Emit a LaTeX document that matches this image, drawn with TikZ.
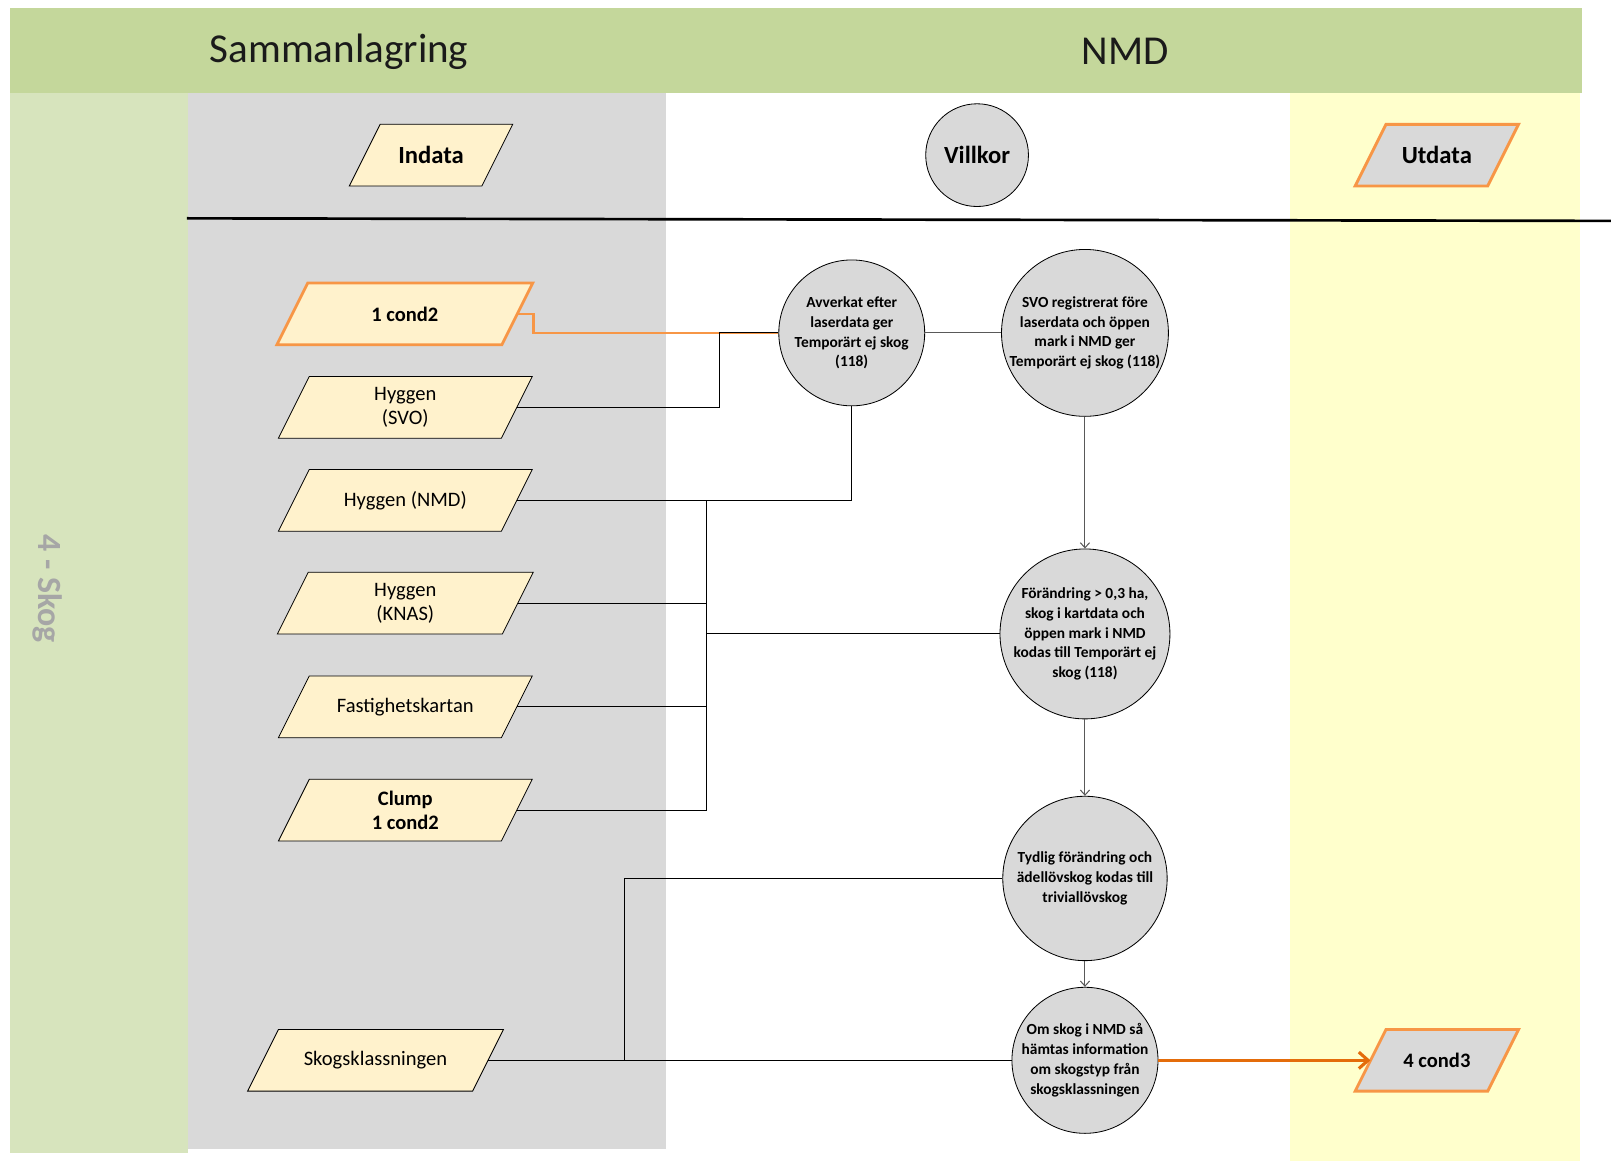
\documentclass[tikz,border=0pt]{standalone}
\usepackage{fontspec}
\setmainfont{Carlito}
\usetikzlibrary{arrows.meta,calc}
\definecolor{band}{HTML}{C4D79B}
\definecolor{lanegreen}{HTML}{D7E4BD}
\definecolor{lanegray}{HTML}{D9D9D9}
\definecolor{laneyellow}{HTML}{FFFFCC}
\definecolor{inpfill}{HTML}{FFF2CC}
\definecolor{orlight}{HTML}{F79646}
\definecolor{ordark}{HTML}{E46C0A}
\definecolor{skogtxt}{HTML}{A6A6A6}
\definecolor{conngray}{HTML}{595959}
\definecolor{hdrtxt}{HTML}{1A1A1A}
\newcommand\mypara[6]{%
 \path[#5] ({#2-#4+30},{#3-30}) -- ({#2+#4},{#3-30}) -- ({#2+#4-30},{#3+30}) -- ({#2-#4},{#3+30}) -- cycle;
 \node[ptext, minimum width={2*#4-30}] (#1) at (#2,#3) {#6};
}
\tikzset{
 ptext/.style={rectangle, inner sep=0pt, minimum height=60pt, align=center, font=\fontsize{20}{23.5}\selectfont},
 inbox/.style={draw=black, line width=0.8pt, fill=inpfill},
 inboxor/.style={draw=orlight, line width=2.8pt, fill=inpfill, line join=miter},
 outbox/.style={draw=orlight, line width=2.8pt, fill=lanegray},
 cond/.style={circle, draw=black, line width=0.8pt, fill=lanegray, inner sep=0pt, align=center, font=\bfseries\fontsize{15}{19.3}\selectfont},
 conn/.style={draw=black, line width=1pt},
 connG/.style={draw=conngray, line width=1pt},
 arr/.style={connG, -{Straight Barb[length=5pt,width=9pt]}},
 oline/.style={draw=orlight, line width=2.5pt},
 oarr/.style={draw=ordark, line width=3.2pt, -{Straight Barb[length=9pt,width=16pt,line width=3pt]}},
 hdr/.style={font=\fontsize{40}{44}\selectfont, text=hdrtxt, inner sep=0pt},
}
\begin{document}
\begin{tikzpicture}[x=1pt, y=-1pt]
\useasboundingbox (0,0) rectangle (1568,1130);
\fill[white] (0,0) rectangle (1568,1130);
% lanes
\fill[band] (10,8) rectangle (1540,91);
\fill[lanegreen] (10,91) rectangle (183,1122);
\fill[lanegray] (183,91) rectangle (648,1118);
\fill[laneyellow] (1256,91) rectangle (1538,1130);
\node[hdr] (hsam) at (330,50) {Sammanlagring};
\node[hdr] (hnmd) at (1095,50) {NMD};
\node[rotate=-90, text=skogtxt, font=\bfseries\fontsize{33}{36}\selectfont, inner sep=0pt] (skog) at (46,573) {4 - Skog};
% separator
\draw[black, line width=2.6pt] (182,212.5) -- (1568,215);
% header shapes
\mypara{indata}{419.5}{151}{79.5}{inbox}{\bfseries\fontsize{24}{28}\selectfont Indata}
\node[cond, minimum size=100pt, font=\bfseries\fontsize{24}{28}\selectfont] (villkor) at (951,151) {Villkor};
\mypara{utdata}{1398.5}{151}{79.5}{outbox}{\bfseries\fontsize{24}{28}\selectfont Utdata}
% inputs
\mypara{c1}{394}{305.5}{124.5}{inboxor}{\bfseries 1 cond2}
\mypara{hs}{394.5}{396.5}{123.5}{inbox}{Hyggen\\(SVO)}
\mypara{hn}{394.5}{487}{123.5}{inbox}{Hyggen (NMD)}
\mypara{hk}{394.5}{587}{124.5}{inbox}{Hyggen\\(KNAS)}
\mypara{fk}{394.5}{688}{123.5}{inbox}{Fastighetskartan}
\mypara{cl}{394.5}{788.5}{123.5}{inbox}{\bfseries Clump\\\bfseries 1 cond2}
\mypara{sk}{365.5}{1032}{124.5}{inbox}{Skogsklassningen}
\mypara{out}{1398.5}{1032}{79.5}{outbox}{\bfseries 4 cond3}
% conditions
\node[cond, minimum size=142pt] (av) at (829,324) {Avverkat efter\\laserdata ger\\Temporärt ej skog\\(118)};
\node[cond, minimum size=160pt] (reg) at (1056,324) {SVO registrerat före\\laserdata och öppen\\mark i NMD ger\\Temporärt ej skog (118)};
\node[cond, minimum size=160pt] (fo) at (1056,617) {Förändring > 0,3 ha,\\skog i kartdata och\\öppen mark i NMD\\kodas till Temporärt ej\\skog (118)};
\node[cond, minimum size=160pt] (ty) at (1056,855) {Tydlig förändring och\\ädellövskog kodas till\\triviallövskog};
\node[cond, minimum size=140pt] (om) at (1056,1032) {Om skog i NMD så\\hämtas information\\om skogstyp från\\skogsklassningen};
% connectors
\coordinate (k1) at (519,324);
\coordinate (k2) at (700,324);
\coordinate (j1) at (688,617);
\coordinate (j2) at (608,1032);
\draw[oline] (c1.east) -| (k1) -- (av.west);
\draw[conn] (hs.east) -| (k2) -- (av.west);
\draw[connG] (av.east) -- (reg.west);
\draw[conn] (av.south) |- (hn.east);
\draw[conn] (hn.east) -| (j1);
\draw[conn] (hk.east) -| (j1);
\draw[conn] (fk.east) -| (j1);
\draw[conn] (cl.east) -| (j1);
\draw[conn] (j1) -- (fo.west);
\draw[arr] (reg.south) -- (fo.north);
\draw[arr] (fo.south) -- (ty.north);
\draw[arr] (ty.south) -- (om.north);
\draw[conn] (ty.west) -| (j2);
\draw[conn] (sk.east) -- (om.west);
\draw[oarr] (om.east) -- (out.west);
\end{tikzpicture}
\end{document}
